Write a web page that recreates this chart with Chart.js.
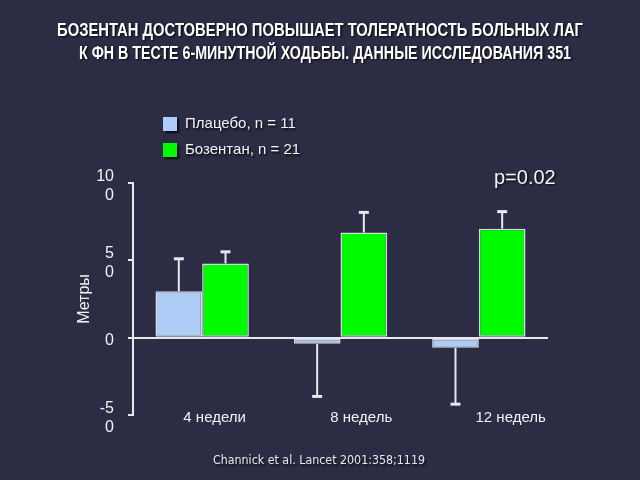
<!DOCTYPE html>
<html>
<head>
<meta charset="utf-8">
<script src="https://cdn.jsdelivr.net/npm/chart.js@4.4.1/dist/chart.umd.min.js"></script>
<style>
  html, body { margin: 0; padding: 0; background: #2c2c45; }
  #wrap { width: 640px; height: 480px; position: relative; }
</style>
</head>
<body>
<div id="wrap"><canvas id="chart"></canvas></div>
<script>
const CATEGORIES = ['4 недели', '8 недель', '12 недель'];
const SERIES_NAMES = ['Плацебо, n = 11', 'Бозентан, n = 21'];
const PLACEBO = [30, -4, -6.5];
const PLACEBO_ERR = [21, 34, 36.5];
const BOSENTAN = [48, 68, 70.5];
const BOSENTAN_ERR = [7.5, 13, 11];
const Y_TICKS = [-50, 0, 50, 100];
const Y_TICK_LABELS = [['-5', '0'], '0', ['5', '0'], ['10', '0']];
const TITLE_LINES = [
  'БОЗЕНТАН ДОСТОВЕРНО ПОВЫШАЕТ ТОЛЕРАТНОСТЬ БОЛЬНЫХ ЛАГ',
  'К ФН В ТЕСТЕ 6-МИНУТНОЙ ХОДЬБЫ. ДАННЫЕ ИССЛЕДОВАНИЯ 351',
];
const Y_TITLE = 'Метры';
const P_VALUE = 'p=0.02';
const CITATION = 'Channick et al. Lancet 2001:358;1119';
// the week labels are not centred under the bars, so they sit on their own axis (category units)
const LABEL_AT = [0.09, 1.15, 2.23];

const TEXT = '#f2f2f6';
const AXIS = '#e6e8ee';
const FONT = "'Liberation Sans', Arial, sans-serif";
const COLORS = ['#aecdf6', '#00fb00'];

function shadow(ctx, on) {
  ctx.shadowColor = on ? 'rgba(0,0,0,0.75)' : 'transparent';
  ctx.shadowOffsetX = on ? 1.5 : 0;
  ctx.shadowOffsetY = on ? 1.5 : 0;
  ctx.shadowBlur = on ? 2 : 0;
}

const errorBars = {
  id: 'errorBars',
  afterDatasetsDraw(chart) {
    const { ctx } = chart;
    const y = chart.scales.y;
    ctx.save();
    ctx.strokeStyle = AXIS;
    chart.data.datasets.forEach((ds, di) => {
      chart.getDatasetMeta(di).data.forEach((bar, i) => {
        const v = ds.data[i];
        const end = y.getPixelForValue(v + Math.sign(v) * ds.errors[i]);
        ctx.lineWidth = 2;
        ctx.beginPath();
        ctx.moveTo(bar.x, bar.y);
        ctx.lineTo(bar.x, end);
        ctx.stroke();
        ctx.lineWidth = 3;
        ctx.beginPath();
        ctx.moveTo(bar.x - 5, end);
        ctx.lineTo(bar.x + 5, end);
        ctx.stroke();
      });
    });
    ctx.restore();
  },
};

const decor = {
  id: 'decor',
  afterDraw(chart) {
    const { ctx } = chart;
    ctx.save();
    shadow(ctx, true);
    ctx.fillStyle = '#ffffff';
    ctx.textAlign = 'center';
    ctx.textBaseline = 'middle';
    // squeezed Arial bold stands in for the narrow title face
    ctx.font = 'bold 18px ' + FONT;
    ctx.fillText(TITLE_LINES[0], 320, 31, 526);
    ctx.fillText(TITLE_LINES[1], 325, 54, 492);

    // legend
    ctx.textAlign = 'left';
    ctx.font = '15px ' + FONT;
    chart.data.datasets.forEach((ds, i) => {
      const top = 117 + i * 26;
      ctx.fillStyle = ds.backgroundColor;
      ctx.fillRect(163, top, 14, 14);
      ctx.fillStyle = TEXT;
      ctx.fillText(ds.label, 185, top + 7);
    });

    ctx.font = '20px ' + FONT;
    ctx.fillText(P_VALUE, 494, 178);

    ctx.textAlign = 'center';
    ctx.font = "12px 'DejaVu Sans', sans-serif";
    ctx.fillStyle = '#e8e8f0';
    ctx.fillText(CITATION, 319, 461, 212);
    ctx.restore();
  },
};

new Chart(document.getElementById('chart'), {
  type: 'bar',
  data: {
    labels: CATEGORIES,
    datasets: [
      { label: SERIES_NAMES[0], data: PLACEBO, errors: PLACEBO_ERR, backgroundColor: COLORS[0] },
      { label: SERIES_NAMES[1], data: BOSENTAN, errors: BOSENTAN_ERR, backgroundColor: COLORS[1] },
    ],
  },
  options: {
    responsive: true,
    maintainAspectRatio: false,
    devicePixelRatio: 1,
    animation: false,
    layout: { padding: { left: 60, right: 92, top: 183, bottom: 65 } },
    datasets: {
      bar: {
        categoryPercentage: 0.675,
        barPercentage: 1,
        borderWidth: 1.5,
        borderColor: 'rgba(232,236,244,0.9)',
        borderSkipped: false,
      },
    },
    scales: {
      x: { display: false },
      xl: {
        type: 'linear',
        axis: 'x',
        position: { y: -50 },
        min: -0.5,
        max: 2.5,
        offset: false,
        grid: { display: false, drawTicks: false, offset: false },
        border: { display: false },
        afterBuildTicks: s => { s.ticks = LABEL_AT.map(v => ({ value: v })); },
        ticks: {
          autoSkip: false,
          maxRotation: 0,
          padding: -6,
          color: TEXT,
          font: { family: FONT, size: 15 },
          callback: (v, i) => CATEGORIES[i],
        },
      },
      y: {
        min: -50,
        max: 100,
        afterBuildTicks: s => { s.ticks = Y_TICKS.map(v => ({ value: v })); },
        afterFit: s => { s.width = 73; },
        border: { display: true, color: AXIS, width: 2 },
        grid: {
          color: c => (c.tick && c.tick.value === 0 ? AXIS : 'rgba(0,0,0,0)'),
          lineWidth: 2,
          tickColor: AXIS,
          tickLength: 5,
        },
        ticks: {
          color: TEXT,
          padding: 14,
          labelOffset: 3,
          font: { family: FONT, size: 16, lineHeight: 1.2 },
          callback: v => Y_TICK_LABELS[Y_TICKS.indexOf(v)],
        },
        title: {
          display: true,
          text: Y_TITLE,
          color: TEXT,
          font: { family: FONT, size: 16 },
          padding: { top: 15, bottom: 0 },
        },
      },
    },
    plugins: {
      legend: { display: false },
      tooltip: { enabled: false },
    },
  },
  plugins: [errorBars, decor],
});
</script>
</body>
</html>
